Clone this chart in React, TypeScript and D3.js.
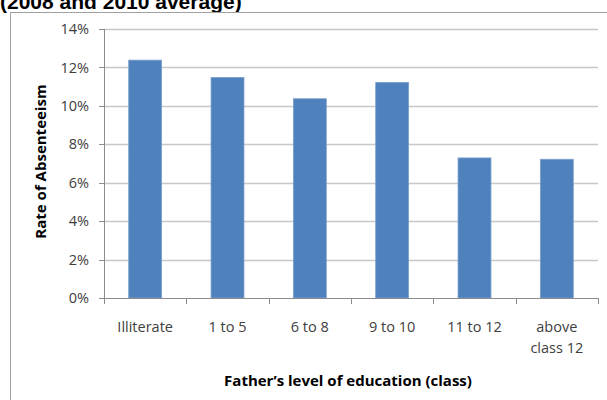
import React, { useEffect, useRef } from "react";
import * as d3 from "d3";

const categories = ["Illiterate", "1 to 5", "6 to 8", "9 to 10", "11 to 12", "above\nclass 12"];
const rates = [12.38, 11.48, 10.37, 11.22, 7.29, 7.22];
const yTicks = [0, 2, 4, 6, 8, 10, 12, 14];

const W = 607;
const H = 400;

export default function App() {
  const ref = useRef<SVGSVGElement>(null);

  useEffect(() => {
    const svg = d3.select(ref.current);
    svg.selectAll("*").remove();

    const font = "'Open Sans', 'Liberation Sans', sans-serif";
    const margin = { top: 29, left: 104, right: 9, bottom: 102 };
    const width = W - margin.left - margin.right;
    const height = H - margin.top - margin.bottom;

    // title, cut off by the top of the image
    svg.append("text")
      .attr("x", 0)
      .attr("y", 9)
      .attr("font-family", "'Liberation Sans', Arial, sans-serif")
      .attr("font-weight", "bold")
      .attr("font-size", 21)
      .attr("fill", "#000")
      .text("(2008 and 2010 average)");

    // chart frame
    svg.append("rect")
      .attr("x", 10.5)
      .attr("y", 12.5)
      .attr("width", W + 10)
      .attr("height", H + 10)
      .attr("fill", "none")
      .attr("stroke", "#a0a0a0")
      .attr("stroke-width", 1);

    const x = d3.scaleBand<string>().domain(categories).range([0, width]).paddingInner(0.6).paddingOuter(0.3);
    const band = d3.scaleBand<string>().domain(categories).range([0, width]);
    const y = d3.scaleLinear().domain([0, 14]).range([height, 0]);

    const g = svg.append("g").attr("transform", `translate(${margin.left},${margin.top})`);

    g.append("g")
      .selectAll("line")
      .data(yTicks.slice(1))
      .enter().append("line")
      .attr("x1", 0)
      .attr("x2", width)
      .attr("y1", (d) => Math.round(y(d)) + 0.5)
      .attr("y2", (d) => Math.round(y(d)) + 0.5)
      .attr("stroke", "#c8c8c8")
      .attr("stroke-width", 1.3);

    g.append("g")
      .selectAll("rect")
      .data(rates)
      .enter().append("rect")
      .attr("x", (d, i) => x(categories[i])!)
      .attr("y", (d) => y(d))
      .attr("width", x.bandwidth())
      .attr("height", (d) => height - y(d))
      .attr("fill", "#4f81bd")
      .attr("stroke", "#7ba0cf")
      .attr("stroke-width", 0.8);

    // y axis
    const yAxis = g.append("g");
    yAxis.append("line")
      .attr("x1", 0.5).attr("x2", 0.5)
      .attr("y1", 0).attr("y2", height)
      .attr("stroke", "#8c8c8c");
    yAxis.selectAll(".tk")
      .data(yTicks)
      .enter().append("line")
      .attr("x1", -5).attr("x2", 0)
      .attr("y1", (d) => Math.round(y(d)) + 0.5)
      .attr("y2", (d) => Math.round(y(d)) + 0.5)
      .attr("stroke", "#8c8c8c");
    yAxis.selectAll("text")
      .data(yTicks)
      .enter().append("text")
      .attr("x", -15)
      .attr("y", (d) => y(d))
      .attr("dy", "0.35em")
      .attr("text-anchor", "end")
      .attr("font-family", font)
      .attr("font-size", 14.5)
      .attr("fill", "#404040")
      .text((d) => d + "%");

    // x axis
    const xAxis = g.append("g").attr("transform", `translate(0,${height})`);
    xAxis.append("line")
      .attr("x1", 0).attr("x2", width)
      .attr("y1", 0.5).attr("y2", 0.5)
      .attr("stroke", "#8c8c8c");
    xAxis.selectAll(".tk")
      .data([...categories.map((c) => band(c)!), width])
      .enter().append("line")
      .attr("x1", (d) => Math.round(d) + 0.5)
      .attr("x2", (d) => Math.round(d) + 0.5)
      .attr("y1", 0).attr("y2", 6)
      .attr("stroke", "#8c8c8c");
    const labels = xAxis.selectAll(".lbl")
      .data(categories)
      .enter().append("text")
      .attr("x", (d) => band(d)! + band.bandwidth() / 2)
      .attr("y", 34)
      .attr("text-anchor", "middle")
      .attr("font-family", font)
      .attr("font-size", 14.5)
      .attr("fill", "#404040");
    labels.selectAll("tspan")
      .data((d) => d.split("\n").map((t, i) => ({ t, i, x: band(d)! + band.bandwidth() / 2 })))
      .enter().append("tspan")
      .attr("x", (d) => d.x)
      .attr("dy", (d) => (d.i === 0 ? 0 : 21))
      .text((d) => d.t);

    // axis titles
    svg.append("text")
      .attr("transform", `translate(46,${margin.top + height / 2 - 2}) rotate(-90)`)
      .attr("text-anchor", "middle")
      .attr("font-family", font)
      .attr("font-weight", "bold")
      .attr("font-size", 15)
      .attr("fill", "#000")
      .text("Rate of Absenteeism");

    svg.append("text")
      .attr("x", 348)
      .attr("y", 386)
      .attr("text-anchor", "middle")
      .attr("font-family", font)
      .attr("font-weight", "bold")
      .attr("font-size", 15)
      .attr("fill", "#000")
      .text("Father\u2019s level of education (class)");
  }, []);

  return (
    <svg
      ref={ref}
      width={W}
      height={H}
      style={{ position: "absolute", left: 0, top: 0, background: "#fff" }}
    />
  );
}
